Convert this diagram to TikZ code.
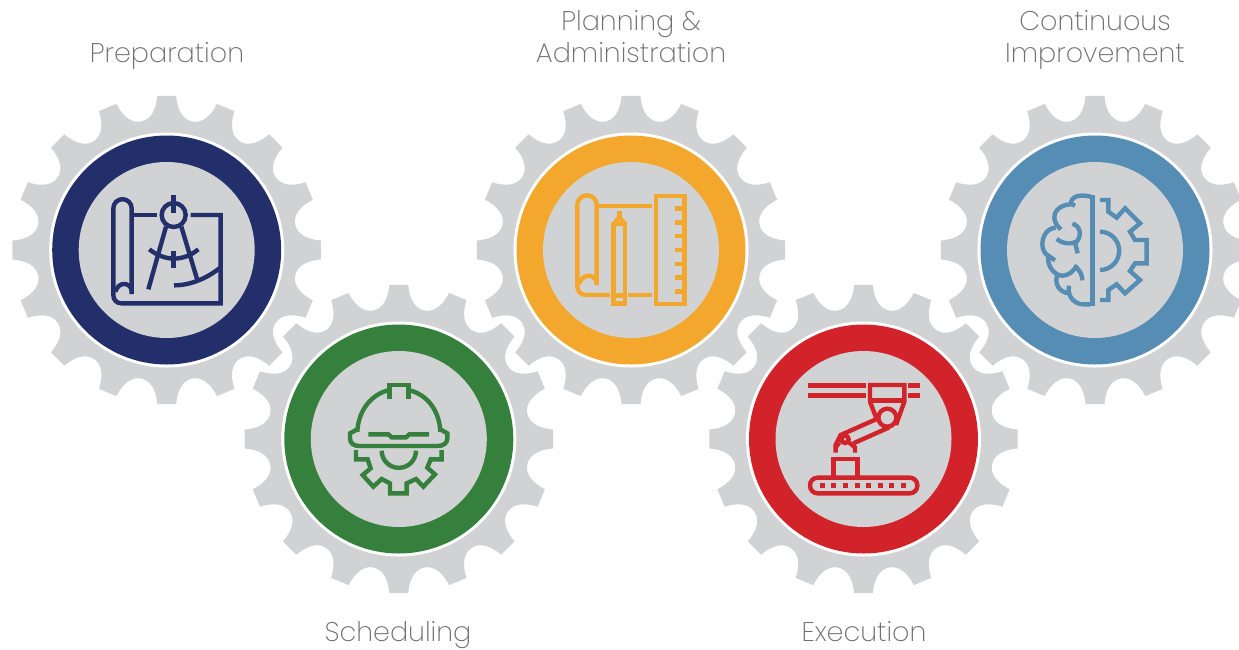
\documentclass[tikz,border=0pt]{standalone}
\usepackage{fontspec}
\setmainfont{Poppins}[UprightFont=* ExtraLight]
\definecolor{gearc}{HTML}{D1D2D4}
\definecolor{navyc}{HTML}{232F6B}
\definecolor{greenc}{HTML}{35803C}
\definecolor{orangec}{HTML}{F3A82D}
\definecolor{redc}{HTML}{D2232A}
\definecolor{bluec}{HTML}{558DB5}
\definecolor{labelc}{HTML}{6D6E71}
\newcommand\cogwheel[3]{%
  \begin{scope}[shift={(#1,#2)}]
    \fill[gearc] (3.5:154.5) \foreach \a in {0,22.5,...,337.5} {
      .. controls (\a+4.3:141) and (\a+6.8:131.5) .. (\a+11.25:131)
      .. controls (\a+15.7:131.5) and (\a+18.2:141) .. (\a+19:154.5)
      -- (\a+26:154.5) } -- cycle;
    \fill[white] (0,0) circle[radius=117.5];
    \fill[#3] (0,0) circle[radius=114.5];
    \fill[gearc] (0,0) circle[radius=88];
  \end{scope}}
\tikzset{
  lab/.style={text=labelc,font=\fontsize{27}{32}\selectfont,align=center,inner sep=0pt},
  iconzoom/.style={x=.33333pt,y=-.33333pt,line width=4.4pt,line join=miter}
}
\begin{document}
\begin{tikzpicture}[x=1pt,y=-1pt]
\useasboundingbox (0,0) rectangle (1239,649);
\clip (0,0) rectangle (1239,649);
\fill[white] (0,0) rectangle (1239,649);
\cogwheel{166.7}{250}{navyc}
\cogwheel{631}{250}{orangec}
\cogwheel{1095}{250}{bluec}
\cogwheel{398.8}{439}{greenc}
\cogwheel{863.5}{439}{redc}

\node[lab] (prep) at (167,55.5) {Preparation};
\node[lab] (plan) at (631,37) {Planning \&\\Administration};
\node[lab] (cont) at (1095,40) {Continuous\\Improvement};
\node[lab] (sched) at (398,635) {Scheduling};
\node[lab] (exec) at (864,632) {Execution};

% navy icon
\begin{scope}[shift={(90,180)},iconzoom,draw=navyc]
  \draw (125,342) -- (125,85) arc[start angle=360,end angle=180,radius=27.5] -- (70,345)
        .. controls (70,360) and (80,370) .. (95,370) -- (392,370) -- (392,105) -- (302,105);
  \draw (202,105) -- (125,105);
  \draw (125,330) .. controls (118,305) and (85,305) .. (76,335);
  \draw (251,105) circle[radius=36];
  \draw (251,45) -- (251,98);
  \draw (228,140) -- (175,328);
  \draw (274,140) -- (322,300);
  \draw (178,208) .. controls (225,245) and (280,245) .. (325,208);
  \draw (251,212) -- (251,265);
  \draw (252,316) .. controls (305,316) and (355,292) .. (392,262);
\end{scope}

% green icon
\begin{scope}[shift={(330,370)},iconzoom,draw=greenc]
  \draw (82,185) .. controls (85,120) and (125,72) .. (178,60);
  \draw (235,60) .. controls (290,72) and (328,120) .. (331,185);
  \draw (178,88) -- (178,45) -- (235,45) -- (235,88);
  \draw (82,178) -- (60,190) -- (60,205) .. controls (60,220) and (72,228) .. (88,228)
        -- (322,228) .. controls (340,228) and (352,220) .. (352,205) -- (352,190) -- (331,178);
  \draw (115,193) -- (175,193) -- (185,202) -- (228,202) -- (238,193) -- (297,193);
  \draw (78,240) -- (78,268) -- (113,268) -- (122,295) -- (98,315) -- (130,350) -- (155,327)
        -- (180,340) -- (180,370) -- (230,370) -- (230,340) -- (258,327) -- (280,350)
        -- (315,313) -- (292,293) -- (302,268) -- (335,268) -- (335,240);
  \draw (155,242) arc[start angle=180,end angle=0,radius=51.5];
\end{scope}

% orange icon
\begin{scope}[shift={(560,180)},iconzoom,draw=orangec]
  \draw (110,315) -- (110,75) arc[start angle=360,end angle=180,radius=29] -- (52,318)
        .. controls (52,335) and (62,345) .. (80,345) -- (150,345);
  \draw (205,345) -- (275,345);
  \draw (110,78) -- (275,78);
  \draw (110,305) .. controls (100,280) and (68,280) .. (57,312);
  \draw (161,370) rectangle (195,132);
  \draw (161,132) -- (178,112) -- (195,132);
  \draw (178,93) -- (178,118);
  \draw (161,346) -- (195,346);
  \draw (288,48) rectangle (373,372);
  \foreach \ty in {85,127,168,210,252,293,335} \draw (345,\ty) -- (373,\ty);
\end{scope}

% red icon
\begin{scope}[shift={(795,370)},iconzoom,draw=redc]
  \foreach \ty in {46,76} {
    \draw[line width=4.8pt] (40,\ty) -- (213,\ty);
    \draw[line width=4.8pt] (340,\ty) -- (375,\ty);
  }
  \draw (245,147) -- (225,95) -- (225,45) -- (328,45) -- (328,95) -- (303,165);
  \draw (228,92) -- (325,92);
  \draw (277,143) circle[radius=27];
  \draw (245,147) -- (137,195) -- (122,225) -- (122,248);
  \draw (283,172) -- (175,220);
  \draw (150,208) circle[radius=11];
  \draw (163,218) -- (180,232) -- (180,248);
  \draw (133,218) -- (122,232);
  \draw (115,320) -- (115,267) -- (187,267) -- (187,320);
  \draw[rounded corners=7.6pt] (45,323) rectangle (367,370);
  \foreach \dx in {83,115,151,187,221,256,290,325}
    \fill[redc] (\dx-7,339) rectangle (\dx+7,353);
\end{scope}

% blue icon
\begin{scope}[shift={(1025,185)},iconzoom,draw=bluec]
  \draw[line width=4.8pt] (203,30) -- (203,362);
  \draw (197,35) .. controls (170,28) and (135,30) .. (138,60) (150,62) .. controls (145,58) and (140,58) .. (135,58)
        .. controls (100,60) and (85,85) .. (88,100) .. controls (90,115) and (98,125) .. (108,133);
  \draw (92,128) .. controls (65,130) and (52,155) .. (52,178) .. controls (52,195) and (62,210) .. (70,212)
        .. controls (75,217) and (82,220) .. (90,226);
  \draw (70,212) .. controls (65,245) and (90,272) .. (112,272) .. controls (130,272) and (148,258) .. (156,240);
  \draw (96,272) .. controls (88,300) and (105,322) .. (132,325);
  \draw (132,302) .. controls (125,335) and (150,358) .. (175,358) -- (197,358);
  \draw (142,116) .. controls (165,122) and (172,150) .. (155,170) .. controls (135,180) and (110,175) .. (95,162);
  \draw (150,172) -- (158,205);
  \draw (150,245) .. controls (165,255) and (172,270) .. (172,286);
  \draw (225,45) -- (250,45) -- (250,80) -- (275,98) -- (300,70) -- (345,115) -- (315,140)
        -- (330,165) -- (365,165) -- (365,235) -- (330,235) -- (315,258) -- (345,285)
        -- (300,325) -- (275,298) -- (250,315) -- (250,345) -- (225,345);
  \draw (225,140) arc[start angle=-90,end angle=90,radius=57.5];
\end{scope}
\end{tikzpicture}
\end{document}
